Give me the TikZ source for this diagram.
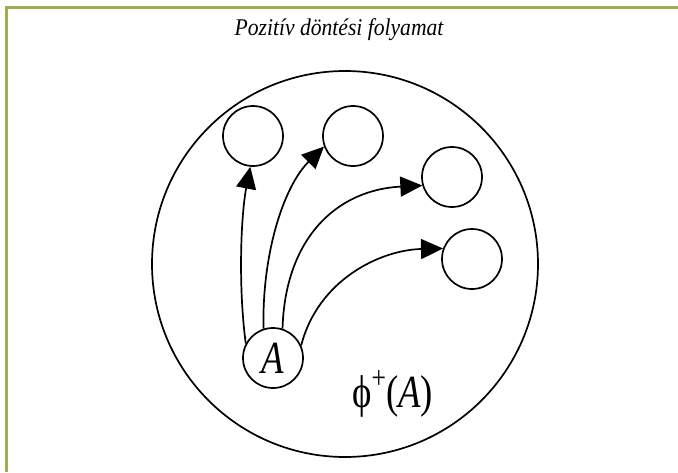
\documentclass[tikz,border=0pt]{standalone}
\usepackage{fontspec}
\setmainfont{Liberation Serif}
\usetikzlibrary{arrows.meta}
\definecolor{olivefr}{RGB}{162,172,82}
\tikzset{
  smallc/.style={circle, draw=black, line width=1.7pt, minimum size=60pt, inner sep=0pt},
  conn/.style={line width=1.7pt, -{Triangle[length=22pt,width=20pt]}},
  frameline/.style={draw=olivefr, line width=3pt}
}
\begin{document}
\begin{tikzpicture}[x=1pt,y=-1pt]
\useasboundingbox (0,0) rectangle (678,472);
\fill[white] (0,0) rectangle (678,472);
\draw[frameline] (6.5,472) -- (6.5,7.5) -- (678,7.5);
\node[font=\itshape\fontsize{24}{26}\selectfont] (title) at (339,30) {\scalebox{0.9}[1]{Pozitív döntési folyamat}};
\node[circle, draw=black, line width=1.7pt, minimum size=386pt, inner sep=0pt] (big) at (345,264) {};
\node[smallc] (c1) at (253,136) {};
\node[smallc] (c2) at (353,136) {};
\node[smallc] (c3) at (452,177) {};
\node[smallc] (c4) at (472,259) {};
\node[smallc, font=\itshape\fontsize{46}{46}\selectfont] (A) at (273,358) {\scalebox{0.8}[1]{A}};
\node[font=\fontsize{46}{46}\selectfont, anchor=west, inner sep=0pt] (phi) at (352,394) {\scalebox{0.8}[1]{ϕ\raisebox{0.4em}{\fontsize{32}{32}\selectfont +}(\textit{A})}};
\draw[conn] (A.152) .. controls (238,285) and (241,215) .. (c1.265);
\draw[conn] (A.108) .. controls (262,250) and (285,185) .. (c2.200);
\draw[conn] (A.72) .. controls (285,240) and (335,190) .. (c3.196);
\draw[conn] (A.24) .. controls (318,280) and (380,250) .. (c4.160);
\end{tikzpicture}
\end{document}
